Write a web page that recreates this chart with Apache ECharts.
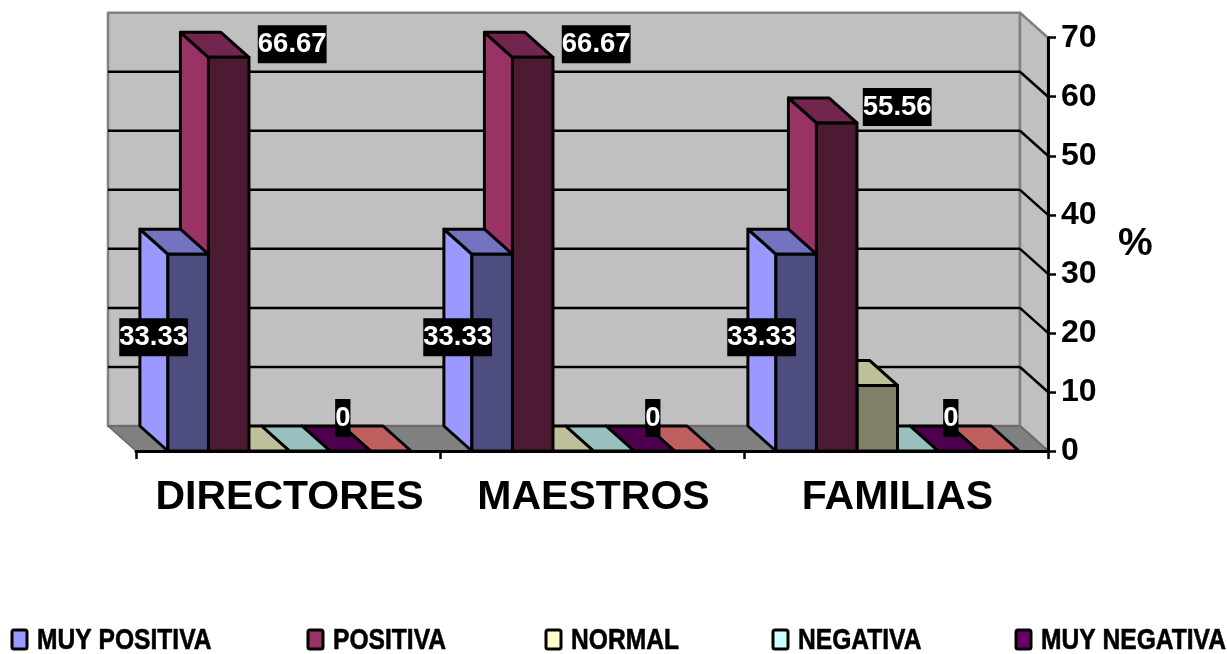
<!DOCTYPE html>
<html><head><meta charset="utf-8">
<style>html,body{margin:0;padding:0;background:#fff}#c{width:1227px;height:654px}</style>
<script src="https://cdn.jsdelivr.net/npm/echarts@6/dist/echarts.min.js"></script>
</head><body><div id="c"></div>
<script>
const categories = ['DIRECTORES','MAESTROS','FAMILIAS'];
const yTicks = [0,10,20,30,40,50,60,70];
const seriesNames = ['MUY POSITIVA','POSITIVA','NORMAL','NEGATIVA','MUY NEGATIVA','OTRA'];
const muyPositiva = [33.33,33.33,33.33];
const positiva = [66.67,66.67,55.56];
const normal = [0,0,11.11];
const negativa = [0,0,0];
const muyNegativa = [0,0,0];
const otra = [0,0,0];
const colors = ['#9999FF','#993366','#FFFFCC','#CCFFFF','#660066','#FF8080'];
const allValues = [muyPositiva,positiva,normal,negativa,muyNegativa,otra];
const legendNames = seriesNames.slice(0,5);
const legendLefts = [12,308,546,773,1016];
// label placement relative to the bar's front-top centre: series -> per category [dx,dy]
const labelOffsets = {
  0:[[-34.5,83],[-34.5,83],[-34.5,83]],
  1:[[63.5,-13],[63.5,-13],[60.5,-16]],
  4:[[-7.5,-33],[-1.5,-33],[-7.5,-33]]
};
const DX=-28, DY=-25, BAR_SHIFT=1.5;
const font='"Liberation Sans",Arial,sans-serif';

function shade(hex,f){
  const n=parseInt(hex.slice(1),16);
  const c=[(n>>16)&255,(n>>8)&255,n&255].map(v=>Math.round(v*f));
  return `rgb(${c[0]},${c[1]},${c[2]})`;
}
function poly(points,fill,stroke,lw){
  return {type:'polygon',shape:{points},style:{fill,stroke:stroke||'#000',lineWidth:lw==null?3:lw,lineJoin:'round'}};
}
function line(a,b,stroke,lw){
  return {type:'line',shape:{x1:a[0],y1:a[1],x2:b[0],y2:b[1]},style:{stroke,lineWidth:lw}};
}
function backdrop(params,api){
  const w=api.size([1,0])[0];
  const L=api.coord([0,0])[0]-w/2, R=api.coord([categories.length-1,0])[0]+w/2;
  const y0=api.coord([0,yTicks[0]])[1], yT=api.coord([0,yTicks[yTicks.length-1]])[1];
  const gray='#808080', wall='#C0C0C0';
  const ch=[];
  ch.push(poly([[L+DX,yT+DY],[R+DX,yT+DY],[R+DX,y0+DY],[L+DX,y0+DY]],wall,gray,2.5));
  ch.push(poly([[R+DX,yT+DY],[R,yT],[R,y0],[R+DX,y0+DY]],wall,gray,2.5));
  ch.push(poly([[L+DX,y0+DY],[R+DX,y0+DY],[R,y0],[L,y0]],gray,'#666',1.5));
  yTicks.slice(1,-1).forEach(t=>{
    const y=api.coord([0,t])[1];
    ch.push(line([L+DX,y+DY],[R+DX,y+DY],'#000',2.5));
    ch.push(line([R+DX,y+DY],[R,y],'#000',2.5));
  });
  return {type:'group',children:ch};
}
function barRender(idx){
  const base=colors[idx];
  return function(params,api){
    const cat=api.value(0), val=api.value(1);
    const top=api.coord([cat,val]), bot=api.coord([cat,0]);
    const w=api.size([1,0])[0]/(seriesNames.length+1.5);
    const x0=top[0]+BAR_SHIFT+(idx-seriesNames.length/2)*w, x1=x0+w, yt=top[1], yb=bot[1];
    const ch=[];
    if(val>0){
      ch.push(poly([[x0,yt],[x0+DX,yt+DY],[x0+DX,yb+DY],[x0,yb]],base));
    }
    ch.push(poly([[x0,yt],[x0+DX,yt+DY],[x1+DX,yt+DY],[x1,yt]],shade(base,0.75)));
    if(val>0){
      ch.push(poly([[x0,yt],[x1,yt],[x1,yb],[x0,yb]],shade(base,0.5)));
    }
    return {type:'group',children:ch};
  };
}
function labelRender(idx){
  return function(params,api){
    const cat=api.value(0), val=api.value(1);
    const off=labelOffsets[idx][cat];
    const top=api.coord([cat,val]);
    const w=api.size([1,0])[0]/(seriesNames.length+1.5);
    const cx=top[0]+BAR_SHIFT+(idx-seriesNames.length/2+0.5)*w;
    return {type:'text',x:cx+off[0],y:top[1]+off[1],style:{
      text:String(val),fill:'#fff',font:'bold 27.5px '+font,align:'center',verticalAlign:'middle',
      backgroundColor:'#000',padding:[5,0,5,0]}};
  };
}
const series=[{type:'custom',name:'__wall',silent:true,z:1,renderItem:backdrop,data:[[0,0]],encode:{x:0,y:1}}];
allValues.forEach((vals,i)=>{
  series.push({type:'custom',name:seriesNames[i],silent:true,z:10-i,
    itemStyle:{color:colors[i]},renderItem:barRender(i),
    data:vals.map((v,c)=>[c,v]),encode:{x:0,y:1}});
});
Object.keys(labelOffsets).forEach(k=>{
  const i=+k;
  series.push({type:'custom',name:'__label'+i,silent:true,z:20,renderItem:labelRender(i),
    data:allValues[i].map((v,c)=>[c,v]),encode:{x:0,y:1}});
});
// legend drawn as graphic: the reference's legend type is horizontally squeezed
const legendGraphics=[];
legendNames.forEach((name,i)=>{
  legendGraphics.push({type:'rect',x:legendLefts[i],y:630,shape:{width:15,height:19,r:2},
    style:{fill:colors[i],stroke:'#000',lineWidth:3}});
  legendGraphics.push({type:'text',x:legendLefts[i]+25,y:641,scaleX:0.82,
    style:{text:name,fill:'#000',stroke:'#000',lineWidth:0.6,font:'bold 30px '+font,verticalAlign:'middle',align:'left'}});
});
const chart=echarts.init(document.getElementById('c'),null,{renderer:'canvas'});
chart.setOption({
  animation:false,
  backgroundColor:'#fff',
  textStyle:{fontFamily:font},
  grid:{left:136,right:179,top:37.7,bottom:203},
  xAxis:{type:'category',data:categories,z:15,
    axisLine:{show:true,lineStyle:{color:'#000',width:3}},
    axisTick:{show:true,interval:0,length:8,lineStyle:{color:'#000',width:2.5}},
    axisLabel:{show:true,interval:0,hideOverlap:false,color:'#000',fontWeight:'bold',fontSize:41,margin:26,padding:[0,0,0,3],fontFamily:font}},
  yAxis:{type:'value',position:'right',min:0,max:70,interval:10,z:15,
    name:'%',nameLocation:'middle',nameRotate:0,nameGap:70,
    nameTextStyle:{color:'#000',fontWeight:'bold',fontSize:39,fontFamily:font,padding:[22,0,0,0]},
    splitLine:{show:false},
    axisLine:{show:true,onZero:false,lineStyle:{color:'#000',width:3}},
    axisTick:{show:true,length:8,lineStyle:{color:'#000',width:2.5}},
    axisLabel:{color:'#000',fontWeight:'bold',fontSize:32,margin:13,padding:[9,0,0,0],fontFamily:font}},
  graphic:{elements:legendGraphics},
  series
});
</script></body></html>
